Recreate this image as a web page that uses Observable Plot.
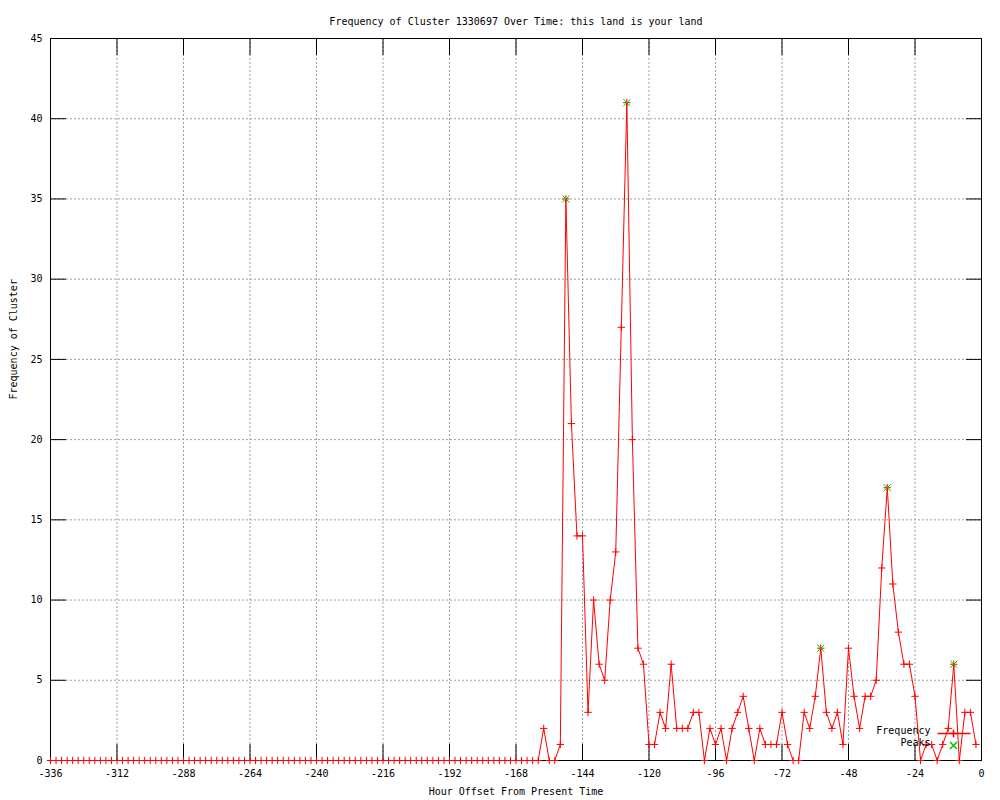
<!DOCTYPE html>
<html><head><meta charset="utf-8">
<script src="https://cdn.jsdelivr.net/npm/d3@7"></script>
<script src="https://cdn.jsdelivr.net/npm/@observablehq/plot@0.6"></script>
<style>body{margin:0;background:#fff}</style>
</head><body><div id="chart"></div>
<script>
// Hours (x categories), every 2 hours from -336 to -2
const hours = d3.range(-336, 0, 2);
// Frequency values, one per hour above
const frequency = [
  0,0,0,0,0,0,0,0,0,0, 0,0,0,0,0,0,0,0,0,0,
  0,0,0,0,0,0,0,0,0,0, 0,0,0,0,0,0,0,0,0,0,
  0,0,0,0,0,0,0,0,0,0, 0,0,0,0,0,0,0,0,0,0,
  0,0,0,0,0,0,0,0,0,0, 0,0,0,0,0,0,0,0,0,0,
  0,0,0,0,0,0,0,0,0,
  2,0,0,1,35,21,14,14,3,10,
  6,5,10,13,27,41,20,7,6,1,
  1,3,2,6,2,2,2,3,3,0,
  2,1,2,0,2,3,4,2,0,2,
  1,1,1,3,1,0,0,3,2,4,
  7,3,2,3,1,7,4,2,4,4,
  5,12,17,11,8,6,6,4,0,1,
  1,0,1,2,6,0,3,3,1
];
const peakHours = [-150, -128, -58, -34, -10];
const peakValues = [35, 41, 7, 17, 6];
const xTicks = [-336,-312,-288,-264,-240,-216,-192,-168,-144,-120,-96,-72,-48,-24,0];
const yTicks = [0,5,10,15,20,25,30,35,40,45];
const titleText = "Frequency of Cluster 1330697 Over Time: this land is your land";
const xLabel = "Hour Offset From Present Time";
const yLabel = "Frequency of Cluster";
const legendLabels = ["Frequency", "Peaks"];

const freqData = hours.map((h, i) => ({h, v: frequency[i]}));
const peakData = peakHours.map((h, i) => ({h, v: peakValues[i]}));

const RED = "#ff0000", GREEN = "#00c000", GRID = "#a0a0a0";
const fmt = d => String(d);
const lineSymbol = {draw(ctx) { ctx.moveTo(-16.5, 0); ctx.lineTo(16.5, 0); }};

const plot = Plot.plot({
  width: 1000, height: 800,
  marginTop: 38, marginBottom: 40, marginLeft: 50, marginRight: 19,
  style: {fontFamily: "DejaVu Sans Mono", fontSize: "10px", background: "white", color: "black"},
  x: {domain: [-336, 0]},
  y: {domain: [0, 45]},
  marks: [
    Plot.gridX(xTicks, {stroke: GRID, strokeOpacity: 1, strokeDasharray: "2,2"}),
    Plot.gridY(yTicks, {stroke: GRID, strokeOpacity: 1, strokeDasharray: "2,2"}),
    // tick labels
    Plot.axisX(xTicks, {anchor: "bottom", tickSize: 0, tickPadding: 9, tickFormat: fmt, label: null}),
    Plot.axisY(yTicks, {anchor: "left", tickSize: 0, tickPadding: 8, tickFormat: fmt, label: null}),
    // inward ticks on all four sides
    Plot.axisX(xTicks, {anchor: "bottom", tickSize: 16, dy: -16, fill: "none", stroke: "black", label: null}),
    Plot.axisX(xTicks, {anchor: "top", tickSize: 16, dy: 16, fill: "none", stroke: "black", label: null}),
    Plot.axisY(yTicks, {anchor: "left", tickSize: 16, dx: 16, fill: "none", stroke: "black", label: null}),
    Plot.axisY(yTicks, {anchor: "right", tickSize: 16, dx: -16, fill: "none", stroke: "black", label: null}),
    Plot.frame({stroke: "black"}),
    // data
    Plot.line(freqData, {x: "h", y: "v", stroke: RED, strokeWidth: 1}),
    Plot.dot(freqData, {x: "h", y: "v", symbol: "plus", stroke: RED, fill: "none", r: 2.5, strokeWidth: 1}),
    Plot.dot(peakData, {x: "h", y: "v", symbol: "times", stroke: GREEN, fill: "none", r: 3.3, strokeWidth: 1}),
    // titles
    Plot.text([titleText], {text: d => d, frameAnchor: "top", dy: -21, fill: "black"}),
    Plot.text([xLabel], {text: d => d, frameAnchor: "bottom", dy: 34, fill: "black"}),
    Plot.text([yLabel], {text: d => d, frameAnchor: "left", dx: -37, rotate: -90, fill: "black"}),
    // legend
    Plot.text([legendLabels[0]], {text: d => d, frameAnchor: "bottom-right", textAnchor: "end", dx: -51, dy: -27, fill: "black"}),
    Plot.text([legendLabels[1]], {text: d => d, frameAnchor: "bottom-right", textAnchor: "end", dx: -51, dy: -15, fill: "black"}),
    Plot.dot([0], {frameAnchor: "bottom-right", dx: -27.5, dy: -27, symbol: lineSymbol, stroke: RED, fill: "none", r: 3}),
    Plot.dot([0], {frameAnchor: "bottom-right", dx: -28, dy: -27, symbol: "plus", stroke: RED, fill: "none", r: 2.5}),
    Plot.dot([0], {frameAnchor: "bottom-right", dx: -28, dy: -15, symbol: "times", stroke: GREEN, fill: "none", r: 3.3})
  ]
});
document.getElementById("chart").append(plot);
</script>
</body></html>
